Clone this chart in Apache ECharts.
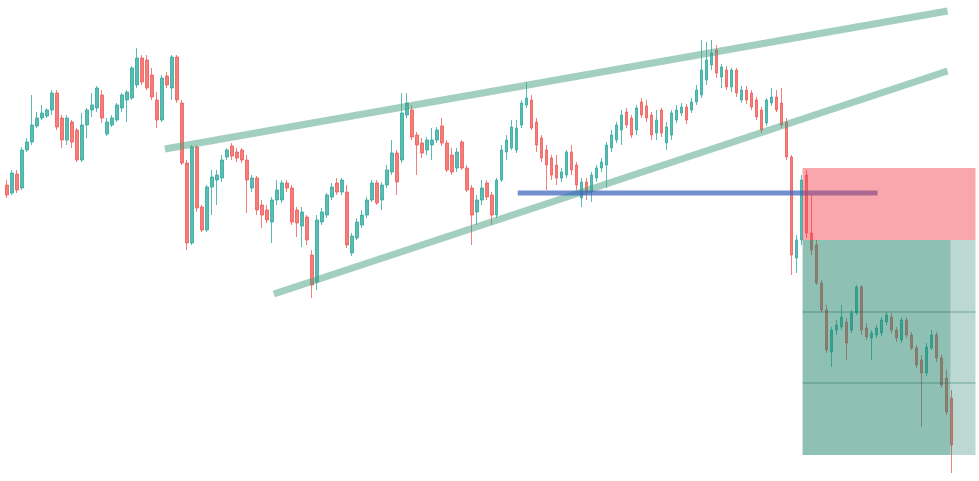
<!DOCTYPE html>
<html>
<head>
<meta charset="utf-8">
<script src="https://cdn.jsdelivr.net/npm/echarts/dist/echarts.min.js"></script>
<style>html,body{margin:0;padding:0;background:#fff;}#chart{width:979px;height:481px;}</style>
</head>
<body>
<div id="chart"></div>
<script>
// Candle prices (arbitrary price units), one per bar
const opens = [
296,288,307,293,331,339,355,363,365,371,
388,363,341,359,351,321,356,371,373,386,
347,356,361,373,381,383,396,423,421,406,
381,361,405,393,424,378,318,238,334,274,
251,294,301,303,324,335,329,331,321,293,
303,276,271,259,281,281,298,293,271,255,
264,226,199,259,266,284,298,289,289,228,
243,256,266,281,298,281,296,309,328,321,
366,371,346,338,331,336,341,355,338,326,
313,339,313,293,269,281,298,286,266,301,
329,333,331,356,376,381,359,343,331,323,
316,303,306,329,316,283,299,289,303,313,
316,333,341,351,369,363,351,379,375,366,
348,371,338,346,361,368,374,371,379,386,
401,416,431,404,411,394,411,381,391,388,
381,371,358,378,384,378,359,324,223,241,
306,248,236,198,171,129,151,154,159,151,
168,194,153,143,146,148,159,164,151,141,
161,146,133,121,108,133,146,123,103,83
];
const closes = [
286,308,291,331,339,356,363,368,371,388,
354,341,363,339,321,356,371,376,393,363,
359,363,376,386,389,413,423,399,393,384,
361,403,396,424,381,318,238,334,273,251,
294,304,306,321,331,325,323,321,301,303,
271,266,261,281,291,298,293,259,258,269,
241,196,261,269,286,294,289,301,236,245,
259,266,281,298,278,296,311,328,299,368,
378,344,336,328,341,341,351,338,311,309,
329,313,291,266,281,293,284,266,301,331,
341,354,353,378,383,353,336,323,316,306,
303,309,329,311,296,299,289,306,313,319,
336,346,356,366,356,346,373,366,363,346,
361,348,354,368,371,374,361,379,391,411,
421,428,408,414,394,411,388,391,381,374,
364,351,381,384,371,356,324,226,241,301,
248,231,198,171,131,151,156,164,138,168,
194,151,144,148,153,161,166,151,143,161,
146,133,116,108,134,146,123,96,69,36
];
const lows = [
283,286,288,291,329,336,353,361,363,366,
351,333,336,333,319,319,343,364,369,358,
345,354,359,369,359,381,393,396,391,381,
353,359,393,381,378,316,231,236,269,249,
249,266,276,299,321,321,319,318,268,289,
266,253,258,238,276,278,289,256,244,234,
236,183,191,256,263,281,286,286,233,225,
241,253,263,279,276,271,293,306,286,318,
363,341,306,323,326,321,338,335,309,306,
309,311,289,236,256,276,281,256,263,299,
321,331,328,353,373,351,329,319,291,301,
296,299,303,306,291,274,281,279,299,309,
293,329,338,336,353,343,346,363,359,341,
341,344,331,341,358,365,357,368,376,383,
396,411,403,393,391,389,384,378,377,371,
361,348,355,375,369,353,321,206,208,236,
243,226,196,169,128,114,146,151,121,148,
166,146,141,121,143,145,156,148,139,138,
143,131,113,54,105,131,119,93,66,8
];
const highs = [
301,311,311,334,343,386,369,376,373,391,
391,366,366,361,353,368,373,388,395,391,
363,366,378,388,391,415,433,426,426,413,
389,406,409,426,426,381,321,336,336,276,
296,311,311,326,333,338,333,333,326,306,
305,281,276,284,301,301,301,296,274,274,
266,231,266,273,288,298,303,303,296,248,
263,271,284,301,301,299,316,341,331,388,
388,376,349,343,344,353,354,363,341,333,
333,341,316,296,286,301,301,289,303,336,
346,361,361,381,399,386,363,346,336,326,
326,313,331,336,319,303,303,309,316,323,
339,351,359,371,373,366,376,383,381,369,
371,373,359,371,376,378,377,383,396,441,
439,441,436,417,415,413,413,395,395,391,
384,374,383,393,391,393,363,326,246,306,
311,286,241,201,176,154,161,176,163,171,
196,196,158,151,156,164,169,168,154,164,
164,149,136,126,138,151,149,126,111,91
];
// Bar slots on the time axis (includes empty slots at the right edge)
const slotCount = 195;
const categories = Array.from({length: slotCount}, (_, i) => 'B' + (i + 1));

// Drawings, in [bar index, price]
const upperTrend = [[31.6, 332], [188.2, 470]];
const lowerTrend = [[53.4, 187], [188.2, 410]];
const necklineLevel = [[102.2, 288], [174.2, 288]];
// zones: [fromBar, toBar, topPrice, bottomPrice]
const stopZone = [159.2, 193.8, 313, 241];
const targetZone = [159.2, 188.8, 241, 26];
const targetZoneExt = [188.8, 193.8, 241, 26];
const targetLevel1 = [[159.2, 169], [193.8, 169]];
const targetLevel2 = [[159.2, 98], [193.8, 98]];

const candleData = opens.map((o, i) => [o, closes[i], lows[i], highs[i]]);
const zones = [stopZone, targetZone, targetZoneExt];
const zoneFills = ['rgba(242,60,70,0.45)', 'rgba(30,130,105,0.5)', 'rgba(30,130,105,0.3)'];

const chart = echarts.init(document.getElementById('chart'), null, {renderer: 'canvas'});

function lineSeries(data, color, width, z) {
  return {
    type: 'line', xAxisIndex: 1, yAxisIndex: 0, data: data,
    symbol: 'none', silent: true, z: z,
    lineStyle: {color: color, width: width, cap: 'butt'}
  };
}

chart.setOption({
  animation: false,
  backgroundColor: '#ffffff',
  grid: {left: 4.5, right: 0, top: 0, bottom: 0},
  xAxis: [
    {type: 'category', data: categories, show: false, boundaryGap: true},
    {type: 'value', min: -0.5, max: slotCount - 0.5, show: false}
  ],
  yAxis: {type: 'value', min: 0, max: 481, show: false},
  series: [
    {
      type: 'candlestick', data: candleData, barWidth: 3, z: 2, silent: true,
      itemStyle: {
        color: '#26a69a', color0: '#ef5350',
        borderColor: '#26a69a', borderColor0: '#ef5350',
        borderWidth: 1, opacity: 0.75
      }
    },
    lineSeries(upperTrend, 'rgba(70,160,130,0.5)', 7, 3),
    lineSeries(lowerTrend, 'rgba(70,160,130,0.5)', 7, 3),
    lineSeries(necklineLevel, 'rgba(60,100,190,0.72)', 5, 3),
    {
      type: 'custom', xAxisIndex: 1, yAxisIndex: 0, silent: true, z: 4,
      data: zones,
      renderItem: function (params, api) {
        const p1 = api.coord([api.value(0), api.value(2)]);
        const p2 = api.coord([api.value(1), api.value(3)]);
        return {
          type: 'rect',
          shape: {x: p1[0], y: p1[1], width: p2[0] - p1[0], height: p2[1] - p1[1]},
          style: {fill: zoneFills[params.dataIndex]}
        };
      }
    },
    lineSeries(targetLevel1, 'rgba(20,100,80,0.45)', 1, 5),
    lineSeries(targetLevel2, 'rgba(20,100,80,0.45)', 1, 5)
  ]
});
</script>
</body>
</html>
